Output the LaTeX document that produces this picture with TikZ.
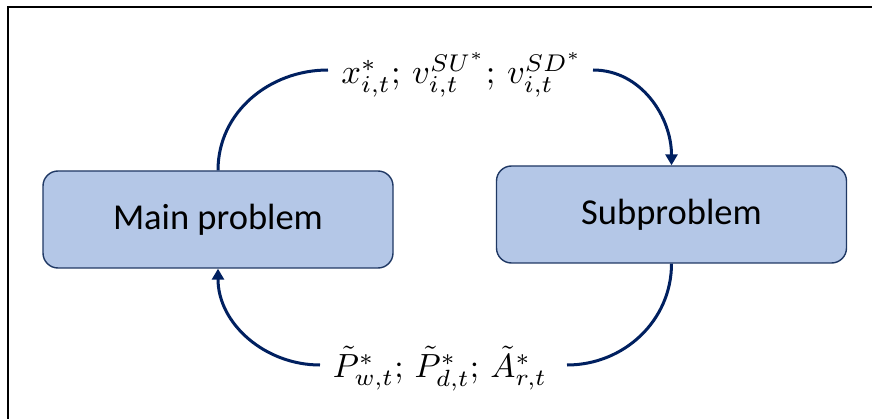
\documentclass[tikz,border=0pt]{standalone}
\usepackage{fontspec}
\setmainfont{Carlito}
\usetikzlibrary{arrows.meta}
\definecolor{boxfill}{HTML}{B4C7E7}
\definecolor{boxline}{HTML}{1F3864}
\definecolor{arrowc}{HTML}{002060}
\tikzset{
  probbox/.style={draw=boxline, line width=1.4pt, fill=boxfill, rounded corners=15pt,
    minimum width=350pt, minimum height=97pt, inner sep=0pt,
    font=\fontsize{36.5}{42}\selectfont, text=black},
  flow/.style={draw=arrowc, line width=3pt},
  flowarrow/.style={flow, -{Triangle[length=11pt,width=12pt]}},
  mathlabel/.style={inner sep=0pt}
}
\begin{document}
\begin{tikzpicture}[x=1pt,y=-1pt]
\useasboundingbox (0,0) rectangle (872,419);
\fill[white] (0,0) rectangle (872,419);
\draw[line width=2pt] (8,419) -- (8,7) -- (872,7);
\node[probbox] (main) at (218,219.5) {Main problem};
\node[probbox] (sub) at (671.5,214.5) {Subproblem};
\node[mathlabel] (top) at (462,75) {\scalebox{3.45}{$x_{i,t}^{*};\, v_{i,t}^{SU^{*}};\, v_{i,t}^{SD^{*}}$}};
\node[mathlabel] (bot) at (440,369) {\scalebox{3.35}{$\tilde{P}_{w,t}^{*};\, \tilde{P}_{d,t}^{*};\, \tilde{A}_{r,t}^{*}$}};
\coordinate (tl) at (328,70);
\coordinate (tr) at (593,70);
\coordinate (bl) at (320,365);
\coordinate (br) at (567,365);
\draw[flow] (main.north) to[out=90,in=180] (tl);
\draw[flowarrow] (tr) to[out=0,in=90] (sub.north);
\draw[flow] (sub.south) to[out=-90,in=0] (br);
\draw[flowarrow] (bl) to[out=180,in=-90] (main.south);
\end{tikzpicture}
\end{document}
